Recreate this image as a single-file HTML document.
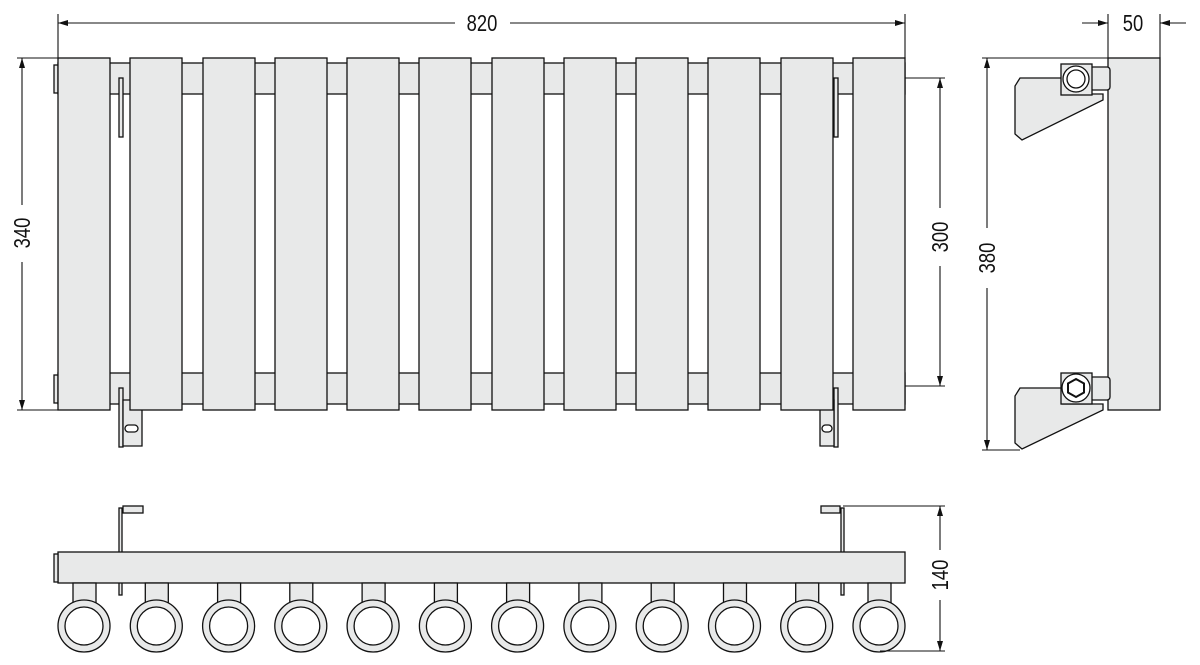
<!DOCTYPE html>
<html><head><meta charset="utf-8"><style>
html,body{margin:0;padding:0;background:#fff;}
svg{display:block;}
text{font-family:"Liberation Sans",sans-serif;font-size:23px;fill:#111;}
</style></head><body>
<svg width="1200" height="665" viewBox="0 0 1200 665" xmlns="http://www.w3.org/2000/svg">
<defs>
<marker id="a" viewBox="0 0 10 6" refX="10" refY="3" markerWidth="10" markerHeight="6" orient="auto" markerUnits="userSpaceOnUse"><path d="M0,0 L10,3 L0,6 z" fill="#111"/></marker>
</defs>
<g stroke="#111" stroke-width="1.3" fill="#e8e9e9">
<!-- bars -->
<rect x="58" y="63" width="847" height="31"/>
<rect x="58" y="373" width="847" height="31"/>
<!-- front brackets -->
<rect x="54" y="65" width="4" height="28"/>
<rect x="54" y="375" width="4" height="28"/>
<rect x="119" y="78" width="4" height="59"/>
<rect x="119" y="388" width="4" height="59"/>
<path d="M123 400 H142 V446 H123 Z"/>
<rect x="125" y="425" width="13" height="7" rx="3.5" fill="#fff"/>
<rect x="834" y="78" width="4" height="59"/>
<rect x="834" y="388" width="4" height="59"/>
<path d="M820 400 H834 V446 H820 Z"/>
<rect x="822" y="425" width="10" height="7" rx="3.5" fill="#fff"/>
<!-- panels -->
<rect x="58" y="58" width="52" height="352"/>
<rect x="130" y="58" width="52" height="352"/>
<rect x="203" y="58" width="52" height="352"/>
<rect x="275" y="58" width="52" height="352"/>
<rect x="347" y="58" width="52" height="352"/>
<rect x="419" y="58" width="52" height="352"/>
<rect x="492" y="58" width="52" height="352"/>
<rect x="564" y="58" width="52" height="352"/>
<rect x="636" y="58" width="52" height="352"/>
<rect x="708" y="58" width="52" height="352"/>
<rect x="781" y="58" width="52" height="352"/>
<rect x="853" y="58" width="52" height="352"/>
<!-- side view -->
<rect x="1108" y="58" width="52" height="352"/>
<path d="M1020 78 H1062 V94 H1103 V100 L1022 140 L1015 134 V86 Z"/>
<rect x="1090" y="67" width="20" height="23" rx="3"/>
<rect x="1061" y="64" width="31" height="31"/>
<circle cx="1076" cy="79" r="13" fill="#fff"/>
<circle cx="1076" cy="79" r="9" fill="#fff"/>
<path d="M1020 388 H1062 V404 H1103 V410 L1022 449 L1015 443 V396 Z"/>
<rect x="1090" y="377" width="20" height="23" rx="3"/>
<rect x="1061" y="373" width="31" height="31"/>
<circle cx="1076" cy="388" r="14" fill="#fff"/>
<path d="M1076 379 L1084 383.5 V392.5 L1076 397 L1068 392.5 V383.5 Z" fill="#fff" stroke-width="2"/>
<!-- bottom view -->
<rect x="119" y="508" width="3" height="87"/>
<rect x="123" y="506" width="20" height="7"/>
<rect x="841" y="508" width="3" height="87"/>
<rect x="821" y="506" width="19" height="7"/>
<rect x="58" y="552" width="847" height="31"/>
<rect x="54" y="554" width="4" height="28"/>
</g>
<g stroke="#111" stroke-width="1.3" fill="#e8e9e9">
<g id="c">
<rect x="73" y="583" width="23" height="22"/>
<circle cx="84" cy="626" r="26"/>
<circle cx="84" cy="626" r="19" fill="#fff"/>
</g>
<use href="#c" x="72.3"/><use href="#c" x="144.6"/><use href="#c" x="216.8"/>
<use href="#c" x="289.1"/><use href="#c" x="361.4"/><use href="#c" x="433.6"/>
<use href="#c" x="505.9"/><use href="#c" x="578.2"/><use href="#c" x="650.5"/>
<use href="#c" x="722.7"/><use href="#c" x="795"/>
</g>
<!-- dimensions -->
<g stroke="#111" stroke-width="1.1" fill="none">
<line x1="58" y1="14" x2="58" y2="58"/>
<line x1="905" y1="14" x2="905" y2="58"/>
<line x1="58" y1="23" x2="455" y2="23" marker-start="url(#a)" style="marker-start:none"/>
<path d="M455 23 H58" marker-end="url(#a)"/>
<path d="M510 23 H905" marker-end="url(#a)"/>
<line x1="17" y1="58" x2="58" y2="58"/>
<line x1="17" y1="410" x2="58" y2="410"/>
<path d="M22 205 V58" marker-end="url(#a)"/>
<path d="M22 262 V410" marker-end="url(#a)"/>
<line x1="905" y1="78" x2="945" y2="78"/>
<line x1="905" y1="386" x2="945" y2="386"/>
<path d="M940 208 V78" marker-end="url(#a)"/>
<path d="M940 266 V386" marker-end="url(#a)"/>
<line x1="982" y1="58" x2="1108" y2="58"/>
<line x1="982" y1="450" x2="1020" y2="450"/>
<path d="M987 228 V58" marker-end="url(#a)"/>
<path d="M987 288 V450" marker-end="url(#a)"/>
<line x1="1108" y1="14" x2="1108" y2="58"/>
<line x1="1160" y1="14" x2="1160" y2="58"/>
<path d="M1082 23 H1108" marker-end="url(#a)"/>
<path d="M1186 23 H1160" marker-end="url(#a)"/>
<line x1="843" y1="506" x2="945" y2="506"/>
<line x1="880" y1="651" x2="945" y2="651"/>
<path d="M940 550 V506" marker-end="url(#a)"/>
<path d="M940 600 V651" marker-end="url(#a)"/>
</g>
<g>
<text x="482" y="31" text-anchor="middle" transform="translate(482 0) scale(0.8 1) translate(-482 0)">820</text>
<text x="1133" y="31" text-anchor="middle" transform="translate(1133 0) scale(0.8 1) translate(-1133 0)">50</text>
<text transform="translate(30 233) rotate(-90) scale(0.8 1)" text-anchor="middle">340</text>
<text transform="translate(948 237) rotate(-90) scale(0.8 1)" text-anchor="middle">300</text>
<text transform="translate(995 258) rotate(-90) scale(0.8 1)" text-anchor="middle">380</text>
<text transform="translate(948 575) rotate(-90) scale(0.8 1)" text-anchor="middle">140</text>
</g>
</svg>
</body></html>
